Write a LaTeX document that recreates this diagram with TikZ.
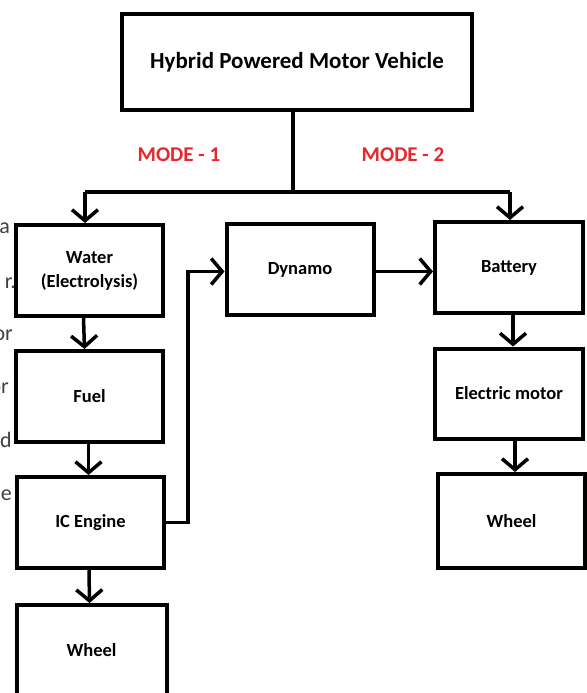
\documentclass[tikz,border=0pt]{standalone}
\usepackage{fontspec}
\setmainfont{Carlito}
\usepackage{tikz}
\usetikzlibrary{shapes,arrows,arrows.meta}
\usetikzlibrary{positioning}
\definecolor{modered}{RGB}{232,38,43}
\definecolor{strayink}{RGB}{64,64,64}
\tikzstyle{arrow} = [-{Straight Barb[length=11pt,width=26pt]}, line width=3.5pt]
\tikzstyle{line} = [draw, line width=3.5pt]
\tikzstyle{block} = [rectangle, draw, line width=4pt, fill=white,
   minimum width=147pt, minimum height=91pt, inner sep=0pt,
   font=\fontsize{18.5pt}{24pt}\selectfont\bfseries, align=center]
\tikzstyle{mode} = [text=modered, font=\fontsize{21pt}{25pt}\selectfont\bfseries]
\tikzstyle{stray} = [text=strayink, anchor=base east, inner sep=0pt,
   font=\fontsize{22pt}{26pt}\selectfont]

\begin{document}
\begin{tikzpicture}[node distance=126pt]
\useasboundingbox (0,0) rectangle (586pt,-693pt);

\node (top) [block, minimum width=350pt, minimum height=96pt,
   font=\fontsize{23pt}{27pt}\selectfont\bfseries] at (297pt,-62pt) {Hybrid Powered Motor Vehicle};

\node (mode1) [mode] at (179pt,-155pt) {MODE - 1};
\node (mode2) [mode] at (403pt,-155pt) {MODE - 2};

% mode 1 branch
\node (water) [block, below of=top, xshift=-207.5pt, yshift=-82.5pt] {Water\\(Electrolysis)};
\node (fuel) [block, below of=water] {Fuel};
\node (ic) [block, below of=fuel, xshift=1pt] {IC Engine};
\node (wheelL) [block, below of=ic, xshift=1pt, yshift=-2pt, minimum width=150pt] {Wheel};

% mode 2 branch
\node (dynamo) [block, right of=water, xshift=84.5pt, yshift=1pt] {Dynamo};
\node (battery) [block, right of=dynamo, xshift=83pt, yshift=2pt, minimum width=148pt] {Battery};
\node (motor) [block, below of=battery, minimum width=148pt, minimum height=90pt] {Electric motor};
\node (wheelR) [block, below of=motor, xshift=2.5pt, yshift=-1.5pt, minimum height=94pt] {Wheel};

\coordinate (bus) at (293pt,-192pt);
\coordinate (busL) at (85pt,-192pt);
\coordinate (busR) at (510pt,-192pt);

\draw [line] (top.south -| bus) -- (bus);
\draw [line] (busL) -- (busR);
\draw [arrow] (busL) -- (busL |- water.north);
\draw [arrow] (busR) -- (busR |- battery.north);

\draw [arrow] ([xshift=-6pt]water.south) -- ([xshift=-5pt]fuel.north);
\draw [arrow] ([xshift=-1pt]fuel.south) -- ([xshift=-2pt]ic.north);
\draw [arrow] ([xshift=-1.5pt]ic.south) -- ([xshift=-2pt]wheelL.north);

\draw [arrow] (ic.east) -- ++(22pt,0) |- ([yshift=-2pt]dynamo.west);
\draw [arrow] ([yshift=-2pt]dynamo.east) -- ([yshift=-2pt]dynamo.east -| battery.west);

\draw [arrow] ([xshift=4pt]battery.south) -- ([xshift=4pt]motor.north);
\draw [arrow] ([xshift=6pt]motor.south) -- ([xshift=3.5pt]wheelR.north);

% cut-off words at the left edge
\foreach \i/\y/\x/\w in {1/233/10/a, 2/288/16/r., 3/340/13/or, 4/393/9/or, 5/447/12/d, 6/500/12/e}
  \node (stray\i) [stray] at (\x pt,-\y pt) {\w};

\end{tikzpicture}
\end{document}
